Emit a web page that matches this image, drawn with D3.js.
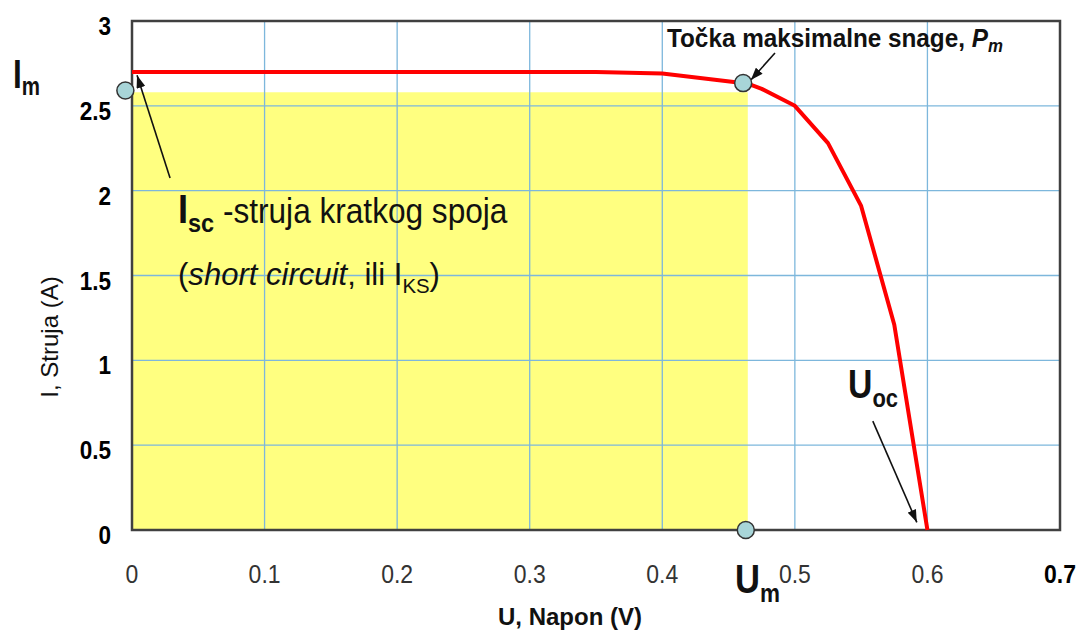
<!DOCTYPE html>
<html>
<head>
<meta charset="utf-8">
<script src="https://cdn.jsdelivr.net/npm/d3@7"></script>
<style>
  body { margin: 0; background: #fff; }
  svg text { font-family: "Liberation Sans", Arial, sans-serif; }
</style>
</head>
<body>
<div id="chart"></div>
<script>
'use strict';

// Data =======================

// I-U curve of the cell (U in V, I in A)
var curveU = [0, 0.35, 0.40, 0.465, 0.475, 0.50, 0.525, 0.55, 0.575, 0.60];
var curveI = [2.70, 2.70, 2.69, 2.63, 2.60, 2.50, 2.28, 1.91, 1.21, 0];

// max power point and its projections on the axes
var pmPoint = [0.461, 2.634];
var imPoint = [-0.005, 2.59];
var umPoint = [0.463, 0];

// yellow area = Um * Im
var powerRect = [0.4645, 2.58];

// axis ticks
var xTicks = [0, 0.1, 0.2, 0.3, 0.4, 0.5, 0.6, 0.7];
var xTickLabels = ['0', '0.1', '0.2', '0.3', '0.4', '0.5', '0.6', '0.7'];
var yTicks = [0, 0.5, 1, 1.5, 2, 2.5, 3];
var yTickLabels = ['0', '0.5', '1', '1.5', '2', '2.5', '3'];

// annotation arrows [from, to] in data units
var arrows = [
  [[0.0287, 2.074], [0.0038, 2.68]],   // Isc
  [[0.485, 2.811], [0.4668, 2.652]],   // Pm
  [[0.5588, 0.642], [0.592, 0.045]]    // Uoc
];

//Sizing things.
var width = 1080, height = 633;
var plot = { left: 132, right: 1060, top: 21, bottom: 530 };

var x = d3.scaleLinear().domain([0, 0.7]).range([plot.left, plot.right]);
var y = d3.scaleLinear().domain([0, 3]).range([plot.bottom, plot.top]);

var svg = d3.select('#chart').append('svg')
  .attr('width', width)
  .attr('height', height);

// arrow head (long and narrow like in the picture)
svg.append('defs').append('marker')
  .attr('id', 'arrowhead')
  .attr('viewBox', '0 0 14 10')
  .attr('refX', 14).attr('refY', 5)
  .attr('markerWidth', 13).attr('markerHeight', 9)
  .attr('markerUnits', 'userSpaceOnUse')
  .attr('orient', 'auto')
  .append('path')
  .attr('d', 'M0,0 L14,5 L0,10 z')
  .attr('fill', '#111');

// yellow power rectangle
svg.append('rect')
  .attr('x', x(0))
  .attr('y', y(powerRect[1]))
  .attr('width', x(powerRect[0]) - x(0))
  .attr('height', y(0) - y(powerRect[1]))
  .attr('fill', '#ffff80');

// grid
var grid = svg.append('g').attr('class', 'grid');
grid.selectAll('.vgrid').data(xTicks.slice(1, -1)).enter().append('line')
  .attr('x1', function (d) { return x(d); })
  .attr('x2', function (d) { return x(d); })
  .attr('y1', y(3)).attr('y2', y(0))
  .attr('stroke', '#7db7dc').attr('stroke-width', 1.3);
grid.selectAll('.hgrid').data(yTicks.slice(1, -1)).enter().append('line')
  .attr('y1', function (d) { return y(d); })
  .attr('y2', function (d) { return y(d); })
  .attr('x1', x(0)).attr('x2', x(0.7))
  .attr('stroke', '#7db7dc').attr('stroke-width', 1.3);

// frame
svg.append('rect')
  .attr('x', x(0)).attr('y', y(3))
  .attr('width', x(0.7) - x(0))
  .attr('height', y(0) - y(3))
  .attr('fill', 'none')
  .attr('stroke', '#404040')
  .attr('stroke-width', 2.5);

// tick labels (slightly narrow font)
svg.selectAll('.xlabel').data(xTicks).enter().append('text')
  .attr('transform', function (d) { return 'translate(' + x(d) + ',' + (plot.bottom + 53) + ') scale(0.92,1)'; })
  .attr('text-anchor', 'middle')
  .attr('font-size', 25)
  .attr('font-weight', function (d, i) { return i === xTicks.length - 1 ? 'bold' : 'normal'; })
  .attr('fill', function (d, i) { return i === xTicks.length - 1 ? '#000' : '#333'; })
  .text(function (d, i) { return xTickLabels[i]; });

svg.selectAll('.ylabel').data(yTicks).enter().append('text')
  .attr('transform', function (d) { return 'translate(111,' + (y(d) + 14) + ') scale(0.9,1)'; })
  .attr('text-anchor', 'end')
  .attr('font-size', 25)
  .attr('font-weight', 'bold')
  .attr('fill', '#000')
  .text(function (d, i) { return yTickLabels[i]; });

// axis titles
svg.append('text')
  .attr('x', 570).attr('y', 625)
  .attr('text-anchor', 'middle')
  .attr('font-size', 24)
  .attr('font-weight', 'bold')
  .attr('fill', '#111')
  .text('U, Napon (V)');

svg.append('text')
  .attr('transform', 'translate(58,337) rotate(-90)')
  .attr('text-anchor', 'middle')
  .attr('font-size', 24)
  .attr('fill', '#111')
  .text('I, Struja (A)');

// red I-U curve
var line = d3.line()
  .x(function (d, i) { return x(curveU[i]); })
  .y(function (d, i) { return y(curveI[i]); });

svg.append('path')
  .datum(curveU)
  .attr('d', line)
  .attr('fill', 'none')
  .attr('stroke', '#ff0000')
  .attr('stroke-width', 4)
  .attr('stroke-linejoin', 'round');

// arrows
svg.selectAll('.arrow').data(arrows).enter().append('line')
  .attr('x1', function (d) { return x(d[0][0]); })
  .attr('y1', function (d) { return y(d[0][1]); })
  .attr('x2', function (d) { return x(d[1][0]); })
  .attr('y2', function (d) { return y(d[1][1]); })
  .attr('stroke', '#111')
  .attr('stroke-width', 1.6)
  .attr('marker-end', 'url(#arrowhead)');

// marker circles
svg.selectAll('.pt').data([imPoint, pmPoint, umPoint]).enter().append('circle')
  .attr('cx', function (d) { return x(d[0]); })
  .attr('cy', function (d) { return y(d[1]); })
  .attr('r', 8.5)
  .attr('fill', '#a8d5d8')
  .attr('stroke', '#333')
  .attr('stroke-width', 1.5);

// squeeze a label to a given width (the picture uses narrow fonts)
function fitWidth(sel, x0, target) {
  var w = sel.node().getBBox().width;
  var k = target / w;
  sel.attr('transform', 'translate(' + x0 + ',0) scale(' + k + ',1) translate(' + (-x0) + ',0)');
}

// builds a text from parts: [string, size, weight, style, dy]
function label(x0, y0, parts, target) {
  var t = svg.append('text').attr('x', x0).attr('y', y0).attr('fill', '#111');
  parts.forEach(function (p) {
    t.append('tspan')
      .attr('font-size', p[1])
      .attr('font-weight', p[2])
      .attr('font-style', p[3])
      .attr('dy', p[4])
      .text(p[0]);
  });
  fitWidth(t, x0, target);
  return t;
}

// big letters
label(13, 88, [['I', 40, 'bold', 'normal', 0], ['m', 26, 'bold', 'normal', 7]], 27);
label(735, 593, [['U', 40, 'bold', 'normal', 0], ['m', 26, 'bold', 'normal', 9]], 45);
label(848, 398, [['U', 40, 'bold', 'normal', 0], ['oc', 26, 'bold', 'normal', 9]], 50);

// max power label
label(667, 47, [
  ['Točka maksimalne snage, ', 26, 'bold', 'normal', 0],
  ['P', 26, 'bold', 'italic', 0],
  ['m', 18, 'bold', 'italic', 5]
], 336);

// Isc text
label(178, 223, [
  ['I', 40, 'bold', 'normal', 0],
  ['sc', 26, 'bold', 'normal', 9],
  [' -struja kratkog spoja', 35, 'normal', 'normal', -9]
], 330);

label(178, 285, [
  ['(', 32, 'normal', 'normal', 0],
  ['short circuit', 32, 'normal', 'italic', 0],
  [', ili I', 32, 'normal', 'normal', 0],
  ['KS', 21, 'normal', 'normal', 8],
  [')', 32, 'normal', 'normal', -8]
], 262);
</script>
</body>
</html>
